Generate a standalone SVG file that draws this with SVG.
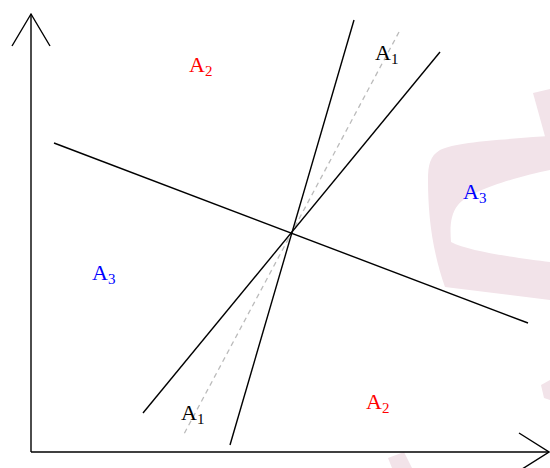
<svg xmlns="http://www.w3.org/2000/svg" width="550" height="468" viewBox="0 0 550 468">
<style>
.ax{stroke:#000;stroke-width:1.4;fill:none}
.ln{stroke:#000;stroke-width:1.4;fill:none}
.dash{stroke:#bbb;stroke-width:1.3;stroke-dasharray:5 4;fill:none}
.wm{fill:#f2e3e9;stroke:none}
.lbl{font-family:"Liberation Serif","Times New Roman",serif;font-size:22px}
.sub{font-size:15px}
.red{fill:#ff0000}.blue{fill:#0000ff}.blk{fill:#000}
</style>
<rect width="550" height="468" fill="#fff"/>
<g id="watermark">
<path class="wm" d="M550,136 L533,137 C500,140 455,142 440,150 C430,156 428,165 428,180 C428,215 432,250 445,287 L550,300 L550,262 C520,258 470,252 451,242 C450,228 450,215 458,205 C470,190 520,176 550,170 Z"/>
<path class="wm" d="M533,93 L550,89 L550,142 L546,140 Z"/>
<path class="wm" d="M388,458 L404,452 L412,468 L392,468 Z"/>
<path class="wm" d="M541,385 L550,380 L550,400 L544,398 Z"/>
</g>
<g id="axes">
<line class="ax" x1="31" y1="452" x2="31" y2="14"/>
<polyline class="ax" points="12,46 31,14 50,46"/>
<line class="ax" x1="31" y1="452" x2="549" y2="452"/>
<polyline class="ax" points="519,433 549,452 519,471"/>
</g>
<g id="connectors">
<line class="dash" x1="399" y1="32" x2="184" y2="434"/>
<line class="ln" x1="354" y1="20" x2="230" y2="445"/>
<line class="ln" x1="440" y1="52" x2="143" y2="413"/>
<line class="ln" x1="54" y1="143" x2="528" y2="323"/>
</g>
<g id="labels">
<text class="lbl red" x="189" y="72">A<tspan class="sub" dy="4">2</tspan></text>
<text class="lbl blk" x="375" y="60">A<tspan class="sub" dy="4">1</tspan></text>
<text class="lbl blue" x="463" y="199">A<tspan class="sub" dy="4">3</tspan></text>
<text class="lbl blue" x="92" y="280">A<tspan class="sub" dy="4">3</tspan></text>
<text class="lbl red" x="366" y="409">A<tspan class="sub" dy="4">2</tspan></text>
<text class="lbl blk" x="181" y="420">A<tspan class="sub" dy="4">1</tspan></text>
</g>
</svg>
